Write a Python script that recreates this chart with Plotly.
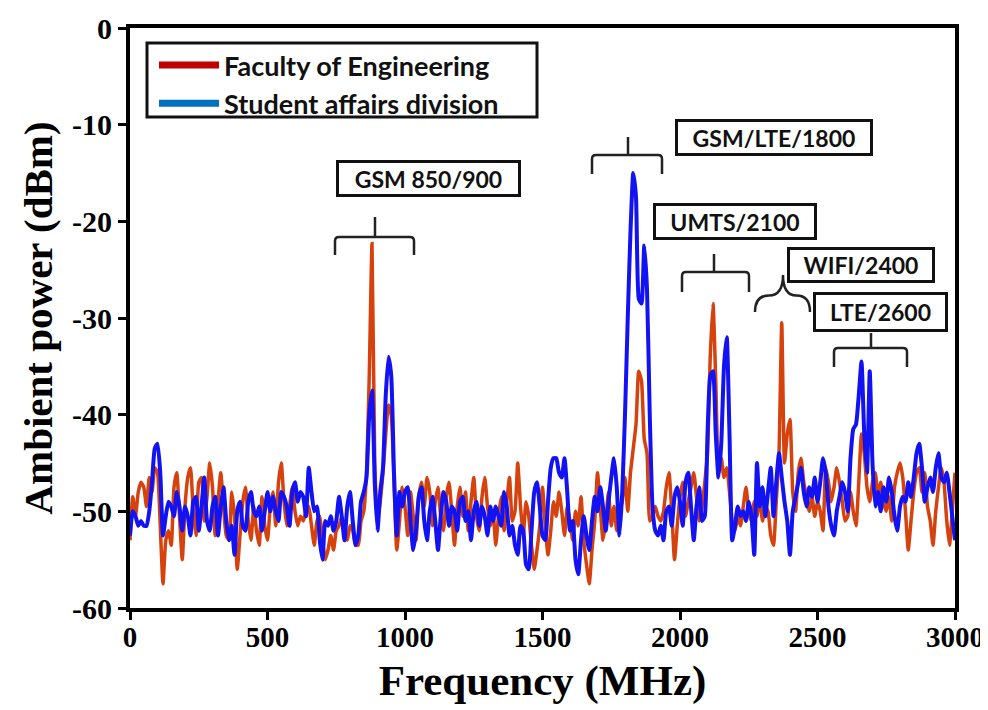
import plotly.graph_objects as go

freq_mhz = list(range(0, 3001, 10))

faculty_eng = [
    -53.0, -48.5, -50.5, -48.0, -47.0, -47.5, -49.5, -46.5, -48.0, -45.5,
    -46.0, -51.5, -57.5, -53.0, -52.0, -53.5, -47.5, -46.0, -50.5, -55.0,
    -49.5, -46.5, -45.5, -50.0, -52.5, -47.0, -46.5, -51.0, -48.5, -45.0,
    -47.5, -52.5, -49.0, -46.0, -49.5, -52.5, -53.0, -48.0, -50.5, -56.0,
    -52.5, -49.0, -47.5, -51.0, -53.0, -49.5, -52.0, -53.5, -48.5, -51.5,
    -53.0, -49.5, -48.0, -51.5, -47.0, -45.0, -49.0, -51.5, -49.5, -47.5,
    -50.0, -51.5, -50.5, -51.0, -50.0, -49.5, -51.5, -53.5, -51.0, -50.5,
    -53.0, -55.0, -54.0, -52.5, -54.0, -52.0, -51.5, -50.5, -52.0, -53.0,
    -51.5, -52.0, -53.5, -53.5, -51.0, -50.0, -46.0, -36.0, -22.3, -45.0,
    -51.0, -49.0, -46.0, -42.0, -39.0, -40.0, -47.0, -54.0, -51.0, -47.5,
    -49.5, -52.5, -48.0, -50.5, -53.0, -48.5, -47.0, -49.5, -46.5, -48.0,
    -51.5, -49.0, -47.5, -50.5, -52.0, -48.5, -47.0, -50.0, -53.5, -49.5,
    -47.5, -50.5, -48.0, -52.0, -49.0, -46.5, -50.5, -52.0, -48.5, -46.5,
    -49.5, -51.5, -50.0, -53.5, -50.5, -48.5, -52.0, -49.0, -46.5, -51.0,
    -50.0, -45.0, -49.5, -52.5, -49.0, -50.5, -53.5, -56.0, -54.0, -51.5,
    -47.5, -51.5, -54.5, -52.0, -49.0, -50.5, -48.0, -50.0, -52.5, -49.5,
    -51.0, -53.0, -50.0, -51.5, -48.5, -53.0, -55.5, -57.5, -54.0, -51.0,
    -46.0, -49.5, -53.0, -51.0, -48.0, -51.5, -49.5, -52.0, -50.0, -49.0,
    -46.5, -50.0, -46.0, -43.5, -41.0, -35.5, -36.5, -42.5, -44.0, -51.0,
    -50.5, -49.5, -50.5, -51.0, -50.0, -47.5, -46.0, -50.0, -55.0, -51.5,
    -48.5, -47.0, -50.5, -49.0, -47.5, -46.0, -48.5, -51.0, -49.5, -47.0,
    -44.0, -34.0, -28.5, -36.5, -46.0, -44.5, -46.5, -45.5, -48.0, -51.0,
    -52.0, -50.5, -51.5, -49.5, -47.5, -50.0, -51.0, -49.0, -50.5, -48.5,
    -51.0, -49.5, -50.0, -52.5, -53.5, -49.0, -44.0, -30.5, -45.0, -42.0,
    -40.5, -48.0, -50.0, -46.0, -44.5, -47.0, -48.5, -50.0, -48.5, -50.5,
    -49.0, -50.0, -52.0, -45.5, -47.0, -49.0, -47.5, -45.5, -47.0, -49.0,
    -51.0, -50.5, -48.0, -50.0, -51.5, -47.0, -42.0, -44.0, -47.5, -49.0,
    -47.0, -46.0, -48.5, -47.0, -49.0, -50.0, -48.5, -51.0, -47.5, -46.0,
    -45.0, -46.5, -50.0, -54.0, -51.0, -48.0, -46.0, -45.5, -48.0, -46.0,
    -49.5, -51.0, -53.5, -50.0, -47.5, -45.5, -47.0, -51.0, -53.5, -50.0,
    -46.0,
]

student_affairs = [
    -52.5, -50.0, -50.5, -51.5, -51.0, -51.5, -51.5, -50.0, -47.0, -43.5,
    -43.0, -46.0, -52.5, -50.5, -49.0, -49.5, -50.5, -48.0, -49.5, -52.0,
    -49.5, -50.5, -52.5, -49.0, -48.5, -52.0, -49.5, -46.5, -51.0, -52.0,
    -49.5, -48.5, -52.5, -49.5, -47.5, -51.0, -53.0, -51.5, -54.5, -50.0,
    -49.0, -51.5, -52.0, -49.0, -48.0, -50.0, -50.5, -49.5, -52.0, -50.0,
    -48.0, -50.0, -48.5, -50.0, -51.0, -48.0, -48.5, -49.5, -51.5, -48.0,
    -47.0, -49.0, -48.0, -48.5, -50.5, -45.5, -48.0, -50.0, -49.5, -53.0,
    -55.0, -51.0, -51.5, -50.5, -52.0, -51.0, -48.5, -50.5, -53.0, -49.5,
    -48.0, -51.0, -53.5, -52.5, -49.0, -48.0, -46.5, -40.0, -37.5, -47.0,
    -52.0, -48.0, -45.5, -38.0, -34.0, -36.0, -46.0, -52.5, -48.0, -49.5,
    -48.0, -47.5, -51.0, -54.0, -52.0, -48.5, -47.5, -51.0, -53.0, -50.0,
    -48.5, -51.0, -54.0, -50.5, -48.0, -49.0, -51.5, -49.5, -50.0, -52.0,
    -49.0, -48.5, -51.0, -50.0, -53.0, -50.0, -49.0, -51.5, -49.5, -50.5,
    -52.5, -49.5, -51.0, -49.5, -50.5, -51.5, -48.0, -49.5, -52.5, -51.5,
    -53.5, -54.5, -51.5, -52.0, -55.5, -56.0, -52.0, -48.0, -47.0, -49.5,
    -52.5, -53.0, -49.0, -45.5, -44.5, -44.5, -46.0, -46.5, -44.5, -48.0,
    -52.0, -51.0, -55.0, -56.5, -53.0, -50.5, -52.5, -54.0, -51.0, -48.5,
    -50.0, -47.5, -49.5, -52.0, -49.0, -46.5, -44.5, -47.5, -52.5, -48.0,
    -40.0, -30.0, -21.0, -15.0, -17.5, -28.0, -28.5, -22.5, -27.0, -40.0,
    -49.5, -52.0, -52.5, -51.5, -53.0, -50.0, -49.5, -51.5, -48.5, -47.5,
    -49.0, -51.5, -47.0, -46.0, -49.5, -53.0, -49.5, -47.5, -51.0, -50.5,
    -42.0, -36.0, -35.5, -42.0, -46.5, -43.0, -35.0, -32.0, -42.0, -53.0,
    -51.5, -49.5, -50.5, -50.0, -51.0, -49.0, -50.5, -54.5, -45.0, -49.5,
    -47.5, -50.5, -48.0, -45.5, -50.5, -47.0, -44.0, -46.5, -49.0, -51.0,
    -54.5, -50.0, -48.5, -47.0, -45.5, -48.0, -49.5, -47.5, -48.5, -46.5,
    -49.0, -47.0, -44.5, -46.0, -49.5, -51.5, -52.5, -50.0, -48.5, -47.0,
    -48.0, -50.0, -44.5, -41.5, -41.0, -38.0, -34.5, -42.0, -46.0, -35.5,
    -45.0, -49.5, -48.0, -50.0, -47.5, -49.0, -46.5, -48.0, -50.5, -52.0,
    -49.5, -48.5, -49.0, -47.0, -48.5, -46.5, -44.0, -43.0, -45.5, -49.0,
    -47.5, -46.5, -48.0, -45.5, -44.0, -46.5, -47.0, -46.0, -48.0, -50.5,
    -53.0,
]

series_names = ["Faculty of Engineering", "Student affairs division"]
band_labels = ["GSM 850/900", "GSM/LTE/1800", "UMTS/2100", "WIFI/2400", "LTE/2600"]
x_ticks = [0, 500, 1000, 1500, 2000, 2500, 3000]
x_tick_text = ["0", "500", "1000", "1500", "2000", "2500", "3000"]
y_ticks = [0, -10, -20, -30, -40, -50, -60]
y_tick_text = ["0", "-10", "-20", "-30", "-40", "-50", "-60"]

OFF = 8  # page body margin
W, H = 988 - OFF, 710 - OFF
L, R, T, B = 130 - OFF, 955 - OFF, 28 - OFF, 608 - OFF


def px(xp, yp):
    # reference-screen pixel -> paper coordinate
    xp -= OFF
    yp -= OFF
    return (xp - L) / (R - L), (B - yp) / (B - T)


fig = go.Figure()
fig.add_trace(go.Scatter(x=freq_mhz, y=faculty_eng, mode="lines", showlegend=False,
                         line=dict(color="#D5420E", width=3.5, shape="spline", smoothing=0.5)))
fig.add_trace(go.Scatter(x=freq_mhz, y=student_affairs, mode="lines", showlegend=False,
                         line=dict(color="#1212F2", width=4, shape="spline", smoothing=0.5)))
# legend entries
fig.add_trace(go.Scatter(x=[None], y=[None], mode="lines", name=series_names[0],
                         line=dict(color="#C00000", width=7)))
fig.add_trace(go.Scatter(x=[None], y=[None], mode="lines", name=series_names[1],
                         line=dict(color="#0070C0", width=7)))

shapes = []

# legend frame
lx0, ly0 = px(147, 117)
lx1, ly1 = px(537, 43)
shapes.append(dict(type="rect", xref="paper", yref="paper", x0=lx0, y0=ly0, x1=lx1, y1=ly1,
                   line=dict(color="#111111", width=3), fillcolor="white", layer="below"))


def bracket(xl, xr, xc, yt, yh, yb):
    r = 4
    p = []
    a = px(xl, yb); p.append(f"M {a[0]},{a[1]}")
    a = px(xl, yh + r); p.append(f"L {a[0]},{a[1]}")
    c = px(xl, yh); e = px(xl + r, yh); p.append(f"Q {c[0]},{c[1]} {e[0]},{e[1]}")
    a = px(xr - r, yh); p.append(f"L {a[0]},{a[1]}")
    c = px(xr, yh); e = px(xr, yh + r); p.append(f"Q {c[0]},{c[1]} {e[0]},{e[1]}")
    a = px(xr, yb); p.append(f"L {a[0]},{a[1]}")
    a = px(xc, yh); p.append(f"M {a[0]},{a[1]}")
    a = px(xc, yt); p.append(f"L {a[0]},{a[1]}")
    return dict(type="path", xref="paper", yref="paper", path=" ".join(p),
                line=dict(color="#222222", width=2.5))


def curly(xl, xr, xc, yt, yb):
    ym = (yt + yb) / 2 + 2
    pts = []
    a = px(xl, yb); pts.append(f"M {a[0]},{a[1]}")
    c = px(xl, ym); e = px((xl + xc) / 2, ym); pts.append(f"Q {c[0]},{c[1]} {e[0]},{e[1]}")
    c = px(xc, ym); e = px(xc, yt); pts.append(f"Q {c[0]},{c[1]} {e[0]},{e[1]}")
    c = px(xc, ym); e = px((xr + xc) / 2, ym); pts.append(f"Q {c[0]},{c[1]} {e[0]},{e[1]}")
    c = px(xr, ym); e = px(xr, yb); pts.append(f"Q {c[0]},{c[1]} {e[0]},{e[1]}")
    return dict(type="path", xref="paper", yref="paper", path=" ".join(pts),
                line=dict(color="#222222", width=2.5))


shapes.append(bracket(335, 414, 375, 217, 237, 255))
shapes.append(bracket(592, 662, 628, 137, 155, 174))
shapes.append(bracket(682, 749, 714, 254, 272, 292))
shapes.append(curly(755, 810, 783, 275, 312))
shapes.append(bracket(834, 907, 871, 333, 348, 367))

annotations = []
boxes = [(336, 521, 160, 197), (675, 873, 119, 156), (653, 817, 203, 240),
         (787, 935, 247, 283), (813, 948, 292, 332)]
for lab, (x0, x1, y0, y1) in zip(band_labels, boxes):
    cx, cy = px((x0 + x1) / 2, (y0 + y1) / 2)
    annotations.append(dict(
        text=lab, xref="paper", yref="paper", x=cx, y=cy, xanchor="center", yanchor="middle",
        showarrow=False, width=x1 - x0 - 6, height=y1 - y0 - 6, borderpad=0,
        bordercolor="#111111", borderwidth=3, bgcolor="white",
        font=dict(family="Lato", size=23, color="#111111", weight="bold")))

fig.update_layout(
    width=W, height=H,
    margin=dict(l=L, r=W - R, t=T, b=H - B, autoexpand=False),
    paper_bgcolor="white", plot_bgcolor="white",
    shapes=shapes, annotations=annotations,
    legend=dict(x=px(154, 0)[0], y=px(0, 41)[1], xanchor="left", yanchor="top",
                borderwidth=0, bgcolor="rgba(0,0,0,0)",
                font=dict(family="Lato", size=27, color="#111111", weight="bold"),
                tracegroupgap=0, itemwidth=60),
    xaxis=dict(range=[0, 3000], tickvals=x_ticks, ticktext=x_tick_text, ticks="outside",
               ticklen=8, tickwidth=3, automargin=False, ticklabelstandoff=-8,
               tickcolor="black", showline=True, linewidth=4, linecolor="black", mirror=True,
               showgrid=False, zeroline=False,
               tickfont=dict(family="Liberation Serif", size=29, color="black", weight="bold"),
               title=dict(text="Frequency (MHz)", standoff=14,
                          font=dict(family="Liberation Serif", size=43, color="black", weight="bold"))),
    yaxis=dict(range=[-60, 0], tickvals=y_ticks, ticktext=y_tick_text, ticks="outside",
               ticklen=8, tickwidth=3, automargin=False,
               tickcolor="black", showline=True, linewidth=4, linecolor="black", mirror=True,
               showgrid=False, zeroline=False,
               tickfont=dict(family="Liberation Serif", size=30, color="black", weight="bold"),
               title=dict(text="Ambient power (dBm)", standoff=8,
                          font=dict(family="Liberation Serif", size=41, color="black", weight="bold"))),
)

fig.write_html("out.html")
